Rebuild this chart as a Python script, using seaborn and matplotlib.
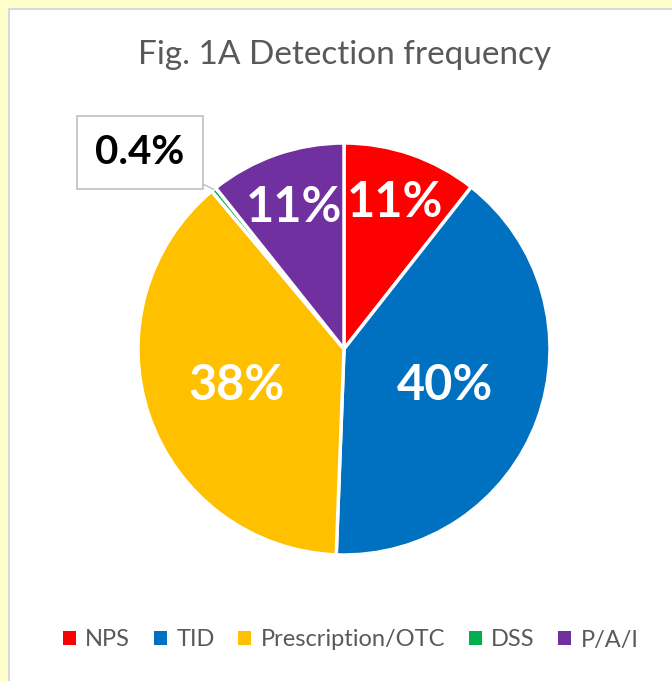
import matplotlib.pyplot as plt
import matplotlib.patches as mpatches
import seaborn as sns
import numpy as np

# Chart data
categories = ['NPS', 'TID', 'Prescription/OTC', 'DSS', 'P/A/I']
shares = [10.6, 40.0, 38.3, 0.4, 10.7]
pct_labels = ['11%', '40%', '38%', '0.4%', '11%']
colors = ['#FF0000', '#0070C0', '#FFC000', '#00B050', '#7030A0']

sns.set_theme(style="white")
plt.rcParams['font.family'] = ['Lato', 'DejaVu Sans']

fig = plt.figure(figsize=(6.72, 6.81), dpi=100)
fig.patch.set_facecolor('#FFFFCC')

# white chart area with grey border
fig.patches.append(mpatches.Rectangle((9 / 672, -0.01), 1.0, 1 - 9 / 681 + 0.01,
                                      transform=fig.transFigure, facecolor='white',
                                      edgecolor='#D9D9D9', linewidth=1.5, zorder=-5))

ax = fig.add_axes([138 / 672, 126 / 681, 412 / 672, 412 / 681])
ax.set_facecolor('none')
ax.set_zorder(2)

wedges, _ = ax.pie(shares, colors=sns.color_palette(colors), startangle=90, counterclock=False,
                   wedgeprops=dict(edgecolor='white', linewidth=2.5), radius=1.0)
ax.set_xlim(-1, 1)
ax.set_ylim(-1, 1)
ax.set_aspect('equal')
ax.axis('off')

# label distances from centre (Excel style placement)
label_r = [0.75, 0.52, 0.55, None, 0.73]
for w, lab, r in zip(wedges, pct_labels, label_r):
    if r is None:
        continue
    mid = np.deg2rad((w.theta1 + w.theta2) / 2)
    ax.text(r * np.cos(mid), r * np.sin(mid), lab, ha='center', va='center',
            color='white', fontsize=35, fontweight='bold')

# callout for the tiny DSS slice
dss = wedges[3]
mid = np.deg2rad((dss.theta1 + dss.theta2) / 2)
ax.annotate(pct_labels[3], xy=(np.cos(mid), np.sin(mid)), xytext=(-0.99, 0.955),
            ha='center', va='center', fontsize=29, fontweight='bold', color='black',
            bbox=dict(boxstyle='square,pad=0.45', facecolor='white', edgecolor='#BFBFBF', linewidth=1.2),
            arrowprops=dict(arrowstyle='-', color='#BFBFBF', lw=1.0, shrinkA=0, shrinkB=0))

fig.text(0.512, 1 - 55 / 681, 'Fig. 1A Detection frequency', ha='center', va='center',
         fontsize=24, color='#595959')

handles = [mpatches.Patch(facecolor=c, edgecolor='none') for c in colors]
fig.legend(handles, categories, loc='center', bbox_to_anchor=(0.522, 1 - 640 / 681),
           ncol=5, frameon=False, fontsize=17, labelcolor='#595959',
           handlelength=0.55, handleheight=0.55, handletextpad=0.4, columnspacing=1.0)

fig.savefig('out.png', dpi=100, facecolor=fig.get_facecolor())
